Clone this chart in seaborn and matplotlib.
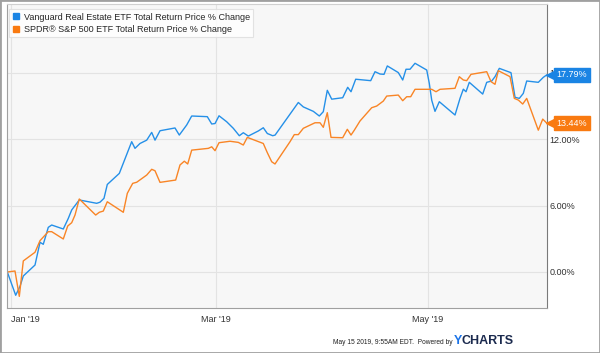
import matplotlib
matplotlib.use('Agg')
import matplotlib.pyplot as plt
import matplotlib.transforms as mtransforms
from matplotlib.lines import Line2D
from matplotlib.patches import Rectangle
import numpy as np
import pandas as pd
import seaborn as sns

# days since Jan 1 2019
vnq_days = [-1.06, 1.35, 2.59, 3.54, 6.91, 8.35, 9.29, 10.73, 11.71, 15.05, 16.49, 17.47, 19.65,
            24.66, 25.61, 26.76, 27.71, 31.17, 34.73, 35.68, 37.12, 39.05, 40.49, 41.44, 42.88,
            47.19, 48.43, 50.56, 52.0, 56.49, 57.76, 58.71, 59.86, 62.07, 63.97, 65.7, 66.85,
            68.29, 71.17, 72.6, 73.76, 75.31, 76.0, 82.68, 84.12, 87.0, 88.72, 89.87, 91.02,
            92.29, 95.45, 96.89, 97.84, 99.19, 103.51, 104.75, 106.19, 107.34, 108.29, 111.45,
            112.72, 113.67, 114.82, 116.26, 119.63, 120.37, 121.07, 122.01, 123.25, 127.77,
            129.21, 130.16, 130.94, 131.88, 135.74, 136.89, 138.33, 139.28, 140.52, 143.88,
            145.04, 146.27, 147.42, 148.4, 151.74, 153.18, 154.16]
vnq_pct = [0.0, -2.1, -1.3, -0.36, 0.63, 2.68, 2.5, 4.03, 4.24, 3.88, 4.84, 5.6, 6.5,
           6.2, 6.3, 6.65, 7.9, 8.9, 11.76, 11.16, 11.6, 11.9, 12.6, 11.9, 12.75,
           13.0, 12.36, 13.27, 14.08, 14.02, 13.36, 13.4, 14.1, 13.56, 12.97, 12.3, 12.57,
           12.27, 12.73, 13.02, 12.5, 12.3, 12.36, 15.3, 14.9, 14.5, 14.08, 14.47, 16.4,
           15.6, 15.73, 16.67, 16.27, 17.4, 17.27, 18.08, 17.87, 17.84, 18.6, 18.0,
           17.33, 18.3, 18.3, 18.84, 18.23, 17.03, 15.5, 14.5, 15.37, 14.17,
           15.67, 16.5, 16.27, 17.12, 16.06, 17.12, 17.24, 17.63, 18.38, 17.99,
           15.77, 15.67, 16.12, 17.24, 17.12, 17.57, 17.79]

spy_days = [-1.06, 1.15, 2.39, 3.54, 6.91, 8.35, 10.73, 11.71, 15.05, 16.32, 17.47, 18.42, 19.65,
            24.37, 25.41, 26.56, 27.71, 32.32, 33.47, 34.24, 35.02, 36.17, 39.05, 40.49, 41.44,
            42.88, 47.39, 48.63, 49.87, 50.85, 52.0, 56.78, 57.76, 58.71, 59.86, 63.02, 65.41,
            66.85, 68.0, 72.6, 73.76, 75.02, 75.97, 80.29, 81.52, 82.68, 84.12, 87.48, 88.92,
            89.87, 91.02, 92.09, 95.45, 96.78, 97.84, 98.79, 100.43, 103.8, 105.24, 107.14,
            108.12, 111.45, 112.72, 113.87, 115.02, 116.26, 121.07, 122.3, 123.45, 127.77,
            129.0, 130.16, 131.13, 132.37, 136.89, 138.13, 139.28, 140.23, 143.6, 144.83,
            145.99, 147.25, 148.4, 151.74, 153.01, 154.16]
spy_pct = [0.0, 0.09, -2.2, 1.0, 1.78, 2.83, 3.64, 3.64, 2.98, 4.15, 4.45, 5.14, 6.59,
           5.14, 5.39, 5.5, 6.34, 5.39, 7.1, 7.55, 8.0, 8.1, 8.75, 9.27, 9.14,
           8.09, 8.3, 9.66, 10.0, 9.75, 11.0, 11.16, 11.3, 10.95, 11.67, 11.8, 11.7,
           11.46, 12.15, 11.6, 10.77, 9.95, 9.75, 11.76, 12.4, 12.4, 12.97, 13.47, 13.47,
           13.06, 14.38, 12.15, 12.12, 12.88, 12.36, 12.8, 13.63, 14.83, 14.98, 15.43,
           15.88, 15.97, 15.46, 15.82, 15.82, 16.49, 16.49, 16.27, 16.49, 16.58,
           17.63, 17.33, 17.27, 17.84, 18.08, 17.18, 16.94, 18.17, 17.63, 15.67,
           15.52, 15.16, 15.67, 12.8, 13.8, 13.44]

series_names = ['Vanguard Real Estate ETF Total Return Price % Change',
                'SPDR® S&P 500 ETF Total Return Price % Change']
tick_days = [0, 59, 120]
tick_labels = ["Jan '19", "Mar '19", "May '19"]
y_ticks = [0, 6, 12, 18]

blue = '#2590e8'
orange = '#f98526'
tag_blue = '#1a84e4'
tag_orange = '#f97a10'

df = pd.concat([
    pd.DataFrame({'day': vnq_days, 'pct': vnq_pct, 'series': series_names[0]}),
    pd.DataFrame({'day': spy_days, 'pct': spy_pct, 'series': series_names[1]}),
])

sns.set_style('white')
plt.rcParams['font.family'] = ['Liberation Sans', 'DejaVu Sans']

fig = plt.figure(figsize = (6, 3.53), dpi = 100)
ax = fig.add_axes([7 / 600, 1 - 308 / 353, 540 / 600, 304 / 353])
ax.set_facecolor('#f7f7f7')

sns.lineplot(data = df, x = 'day', y = 'pct', hue = 'series', palette = [blue, orange],
             estimator = None, sort = False, legend = False, lw = 1.0, ax = ax)

ax.set_xlim(-1.15, 154.24)
ax.set_ylim(-3.25, 24.19)
ax.set_xticks(tick_days)
ax.set_xticklabels(tick_labels)
ax.get_xticklabels()[0].set_horizontalalignment('left')
ax.set_yticks(y_ticks)
ax.set_yticklabels(['%.2f%%' % v for v in y_ticks])
ax.yaxis.tick_right()
ax.tick_params(axis = 'both', length = 0, labelsize = 6.5, labelcolor = '#333333')
ax.tick_params(axis = 'x', pad = 5)
ax.tick_params(axis = 'y', pad = 2)
ax.set_xlabel('')
ax.set_ylabel('')
ax.grid(True, color = '#e3e3e3', lw = 0.8)

for side, col in [('left', '#a0a0a0'), ('bottom', '#a0a0a0'), ('right', '#7a7a7a'), ('top', '#d0d0d0')]:
    ax.spines[side].set_color(col)
    ax.spines[side].set_linewidth(0.8)

# end-of-line value tags
for days, vals, col in [(vnq_days, vnq_pct, tag_blue), (spy_days, spy_pct, tag_orange)]:
    tri = mtransforms.offset_copy(ax.transData, fig = fig, x = 5, y = 0, units = 'dots')
    ax.plot([days[-1]], [vals[-1]], marker = '<', ms = 8.5, color = col, mec = col,
            transform = tri, clip_on = False, zorder = 5)
    txt = mtransforms.offset_copy(ax.transData, fig = fig, x = 10, y = 0, units = 'dots')
    ax.text(days[-1], vals[-1], '%.2f%%' % vals[-1], transform = txt, ha = 'left', va = 'center',
            fontsize = 6.5, color = 'white', clip_on = False, zorder = 6,
            bbox = dict(boxstyle = 'square,pad=0.3', fc = col, ec = col))

handles = [Line2D([], [], marker = 's', ls = 'none', color = c, ms = 4.5) for c in [tag_blue, tag_orange]]
leg = ax.legend(handles, series_names, loc = 'upper left', bbox_to_anchor = (0.004, 0.982),
                fontsize = 6.5, frameon = True, fancybox = False, edgecolor = '#dddddd',
                handlelength = 0.8, handletextpad = 0.5, labelspacing = 0.35,
                borderpad = 0.35, borderaxespad = 0)
leg.get_frame().set_linewidth(0.8)

fig.text(333 / 600, 1 - 342 / 353, 'May 15 2019, 9:55AM EDT.  Powered by', fontsize = 4.8,
         color = '#222222', ha = 'left', va = 'center')
fig.text(454 / 600, 1 - 341 / 353, 'Y', fontsize = 9, fontweight = 'bold', color = '#1a73e8',
         ha = 'left', va = 'center')
fig.text(462 / 600, 1 - 341 / 353, 'CHARTS', fontsize = 9, fontweight = 'bold', color = '#1b2a4e',
         ha = 'left', va = 'center')

fig.patches.append(Rectangle((0, 0), 1, 1, transform = fig.transFigure, fill = False,
                             edgecolor = '#a0a0a0', lw = 2))

fig.savefig('out.png', dpi = 100)
plt.close()
